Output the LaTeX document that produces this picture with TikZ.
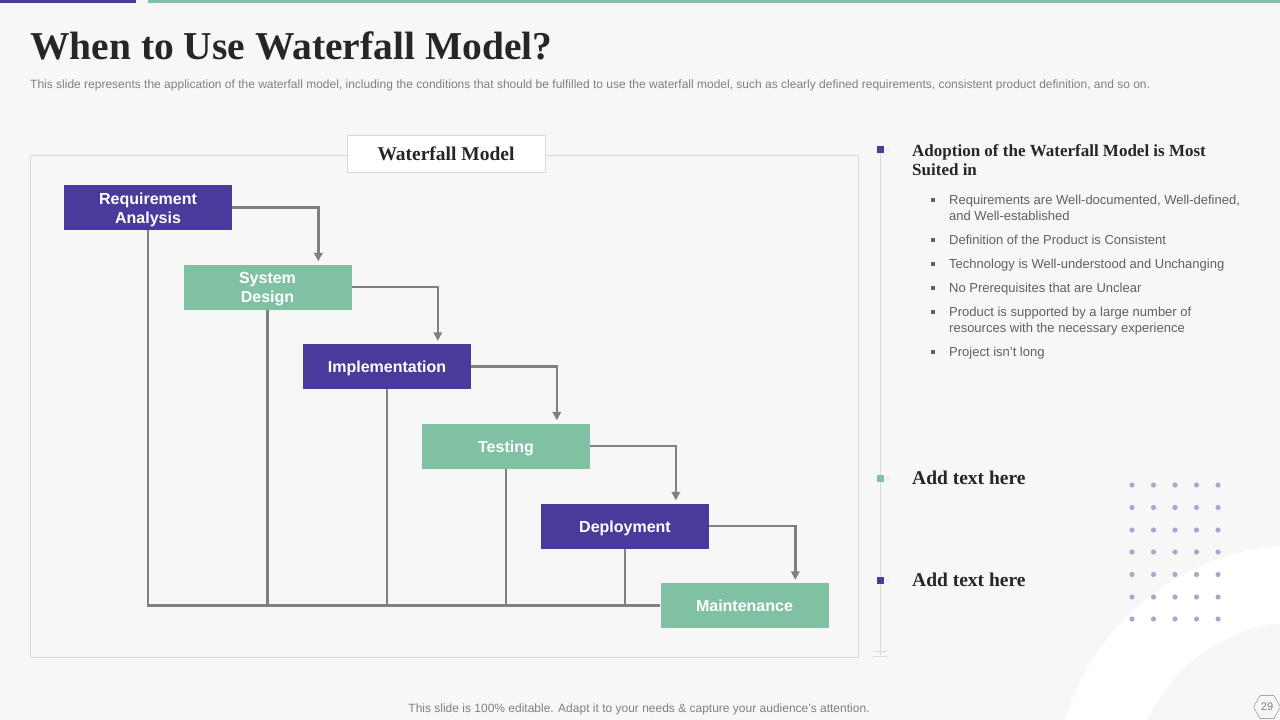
\documentclass[tikz,border=0pt]{standalone}
\usepackage{fontspec}
\setmainfont{Liberation Serif}
\setsansfont{Liberation Sans}
\usetikzlibrary{shapes.geometric,arrows.meta,positioning,calc}
\definecolor{violetUniv}{RGB}{73,58,155}
\definecolor{vertMenthe}{RGB}{128,193,164}
\definecolor{fondGris}{RGB}{247,247,248}
\definecolor{traitGris}{RGB}{128,128,128}
\definecolor{cadreGris}{RGB}{217,217,217}
\definecolor{texteGris}{RGB}{96,96,96}
\definecolor{titreNoir}{RGB}{38,38,38}
\definecolor{pointLavande}{RGB}{170,166,206}

\tikzset{
  etape/.style={rectangle, minimum width=168pt, minimum height=45pt, inner sep=0pt,
                text height=12pt, text depth=0pt,
                text=white, align=center, font=\sffamily\bfseries\fontsize{16}{19}\selectfont},
  deuxLignes/.style={text height=31pt},
  etapeViolet/.style={etape, fill=violetUniv},
  etapeVert/.style={etape, fill=vertMenthe},
  fleche/.style={traitGris, line width=2.6pt, -{Triangle[length=8.5pt,width=8.5pt]}},
  liaison/.style={traitGris, line width=2.6pt},
  puce/.style={anchor=base west, inner sep=0pt, text=texteGris, align=left,
               font=\sffamily\fontsize{13}{16}\selectfont},
}

\begin{document}
\begin{tikzpicture}[x=1pt, y=-1pt, font=\sffamily]

% fond et cadre de page
\fill[fondGris] (0,0) rectangle (1280,720);
\useasboundingbox (0,0) rectangle (1280,720);
\clip (0,0) rectangle (1280,720);
\fill[white, even odd rule] (1300,790) circle[radius=245pt] (1300,790) circle[radius=168pt];
\fill[violetUniv] (0,0) rectangle (136,3);
\fill[vertMenthe] (148,0) rectangle (1280,3);

% titre
\node[anchor=base west, inner sep=0pt, text=titreNoir, font=\rmfamily\bfseries\fontsize{39.5}{44}\selectfont] (titre) at (30,59) {When to Use Waterfall Model?};
\node[anchor=base west, inner sep=0pt, text=traitGris, font=\sffamily\fontsize{12}{14}\selectfont] (soustitre) at (30,88.5) {This slide represents the application of the waterfall model, including the conditions that should be fulfilled to use the waterfall model, such as clearly defined requirements, consistent product definition, and so on.};

% cadre du modele
\draw[cadreGris, fill=fondGris] (30,155) rectangle (858,657);
\node[draw=cadreGris, fill=white, minimum width=198pt, minimum height=37pt, inner sep=0pt,
      text=titreNoir, font=\rmfamily\bfseries\fontsize{19.5}{22}\selectfont] (cadreTitre) at (446,153.5) {Waterfall Model};

% etapes
\node[etapeViolet, deuxLignes] (req) at (148,207.5) {Requirement\\Analysis};
\node[etapeVert, deuxLignes] (sys) at (267.5,287) {System\\Design};
\node[etapeViolet] (impl) at (387,366.5) {Implementation};
\node[etapeVert] (test) at (506,446) {Testing};
\node[etapeViolet] (depl) at (625,526) {Deployment};
\node[etapeVert] (maint) at (744.5,605.5) {Maintenance};

% retours vers le bas
\draw[liaison] (req.south) -- (req.south |- maint.west) -- (maint.west);
\draw[liaison] (sys.south) -- (sys.south |- maint.west);
\draw[liaison] (impl.south) -- (impl.south |- maint.west);
\draw[liaison] (test.south) -- (test.south |- maint.west);
\draw[liaison] (depl.south) -- (depl.south |- maint.west);

% fleches entre etapes
\draw[fleche] (req.east) -| ([xshift=135pt,yshift=3pt]sys.north west);
\draw[fleche] (sys.east) -| ([xshift=135pt,yshift=3pt]impl.north west);
\draw[fleche] (impl.east) -| ([xshift=135pt,yshift=3pt]test.north west);
\draw[fleche] (test.east) -| ([xshift=135pt,yshift=3pt]depl.north west);
\draw[fleche] (depl.east) -| ([xshift=135pt,yshift=3pt]maint.north west);

% ligne de temps a droite
\coordinate (ligneHaut) at (880,149);
\coordinate (ligneBas) at (880,655);
\draw[cadreGris, line width=1pt] (ligneHaut) -- (ligneBas);
\draw[cadreGris, line width=0.8pt] (873,651) -- (887,651) (873,656) -- (887,656);
\fill[violetUniv] (877,146) rectangle (884,153);
\fill[vertMenthe] (877,475) rectangle (884,482);
\fill[violetUniv] (877,577) rectangle (884,584);
\node[text=cadreGris, font=\sffamily\fontsize{7}{7}\selectfont, anchor=west, inner sep=0pt] (chev1) at (886,149.5) {»};
\node[text=cadreGris, font=\sffamily\fontsize{7}{7}\selectfont, anchor=west, inner sep=0pt] (chev2) at (886,478.5) {»};
\node[text=cadreGris, font=\sffamily\fontsize{7}{7}\selectfont, anchor=west, inner sep=0pt] (chev3) at (886,580.5) {»};

\node[anchor=base west, inner sep=0pt, text=titreNoir, align=left, font=\rmfamily\bfseries\fontsize{17}{19}\selectfont] (adoption) at (912,175.5) {Adoption of the Waterfall  Model is Most\\Suited in};

\fill[texteGris] (930.5,198) rectangle (934.5,202);
\node[puce] (p1) at (949,220.5) {Requirements  are Well-documented,  Well-defined,\\and Well-established};
\fill[texteGris] (930.5,238) rectangle (934.5,242);
\node[puce] (p2) at (949,244.5) {Definition  of the Product is Consistent};
\fill[texteGris] (930.5,262) rectangle (934.5,266);
\node[puce] (p3) at (949,268.5) {Technology  is Well-understood  and Unchanging};
\fill[texteGris] (930.5,286) rectangle (934.5,290);
\node[puce] (p4) at (949,292.5) {No Prerequisites that are Unclear};
\fill[texteGris] (930.5,310) rectangle (934.5,314);
\node[puce] (p5) at (949,332.5) {Product is supported by a large number  of\\resources with the necessary experience};
\fill[texteGris] (930.5,350) rectangle (934.5,354);
\node[puce] (p6) at (949,356.5) {Project isn't long};

\node[anchor=base west, inner sep=0pt, text=titreNoir, font=\rmfamily\bfseries\fontsize{19.5}{22}\selectfont] (ajout1) at (912,484) {Add text here};
\node[anchor=base west, inner sep=0pt, text=titreNoir, font=\rmfamily\bfseries\fontsize{19.5}{22}\selectfont] (ajout2) at (912,586) {Add text here};

% grille de points
\foreach \px in {1132,1153.5,1175,1196.5,1218}
  \foreach \py in {485,507.5,530,552,574.5,597,619}
    \fill[pointLavande] (\px,\py) circle[radius=2.6pt];

% pied de page
\node[text=traitGris, inner sep=0pt, font=\sffamily\fontsize{12}{14}\selectfont, anchor=base] (pied) at (639,712) {This slide is 100\% editable. Adapt it to your needs \& capture your audience’s attention.};
\node[draw=traitGris, regular polygon, regular polygon sides=6, minimum size=27pt, inner sep=0pt,
      text=traitGris, font=\sffamily\fontsize{11}{13}\selectfont] (numero) at (1267,707) {29};

\end{tikzpicture}
\end{document}
